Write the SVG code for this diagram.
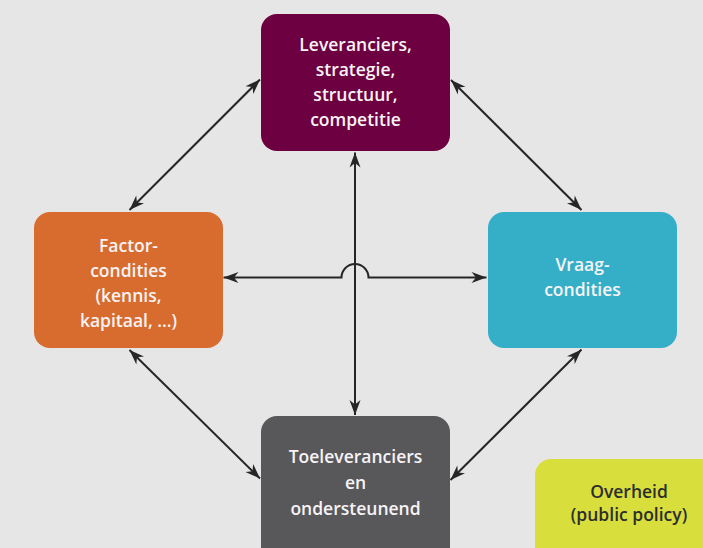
<svg xmlns="http://www.w3.org/2000/svg" width="703" height="548" viewBox="0 0 703 548">
  <style>
    .lbl { font-family: "Open Sans", "Liberation Sans", Arial, sans-serif; font-size: 17.5px; font-weight: 600; text-anchor: middle; fill: #f7f3f5; }
    .dark { fill: #2d2d2d; }
    .conn { stroke: #262626; stroke-width: 2; fill: none; }
  </style>
  <defs>
    <marker id="head" viewBox="-16 -7 18 14" refX="0" refY="0" markerWidth="18" markerHeight="14" markerUnits="userSpaceOnUse" orient="auto-start-reverse">
      <path d="M0,0 L-15,-5.5 L-10.5,0 L-15,5.5 Z" fill="#262626"/>
    </marker>
  </defs>
  <rect width="703" height="548" fill="#e6e6e6"/>

  <g id="connectors">
    <line class="conn" x1="129.5" y1="210" x2="260" y2="79.5" marker-start="url(#head)" marker-end="url(#head)"/>
    <line class="conn" x1="451" y1="80" x2="581.5" y2="210" marker-start="url(#head)" marker-end="url(#head)"/>
    <line class="conn" x1="129.5" y1="350" x2="260" y2="478.5" marker-start="url(#head)" marker-end="url(#head)"/>
    <line class="conn" x1="581.5" y1="349.5" x2="450.5" y2="480" marker-start="url(#head)" marker-end="url(#head)"/>
    <line class="conn" x1="355" y1="152.5" x2="355" y2="415" marker-start="url(#head)" marker-end="url(#head)"/>
    <path class="conn" d="M223.5,277.5 H341.5 A13.5,13.5 0 0 1 368.5,277.5 H486.5" marker-start="url(#head)" marker-end="url(#head)"/>
  </g>

  <g id="node-leveranciers">
    <rect x="261" y="14" width="189" height="137" rx="16" fill="#6c0041"/>
    <text class="lbl" x="355.5" y="51">Leveranciers,</text>
    <text class="lbl" x="355.5" y="76">strategie,</text>
    <text class="lbl" x="355.5" y="101">structuur,</text>
    <text class="lbl" x="355.5" y="126">competitie</text>
  </g>

  <g id="node-factor">
    <rect x="34" y="212" width="189" height="136" rx="16" fill="#d86c2e"/>
    <text class="lbl" x="128.5" y="252">Factor-</text>
    <text class="lbl" x="128.5" y="277">condities</text>
    <text class="lbl" x="128.5" y="302">(kennis,</text>
    <text class="lbl" x="128.5" y="327">kapitaal, …)</text>
  </g>

  <g id="node-vraag">
    <rect x="488" y="212" width="189" height="136" rx="16" fill="#35afc7"/>
    <text class="lbl" x="582.5" y="271">Vraag-</text>
    <text class="lbl" x="582.5" y="296">condities</text>
  </g>

  <g id="node-toeleveranciers">
    <rect x="261" y="416" width="189" height="150" rx="16" fill="#58585b"/>
    <text class="lbl" x="355.5" y="463">Toeleveranciers</text>
    <text class="lbl" x="355.5" y="489">en</text>
    <text class="lbl" x="355.5" y="515">ondersteunend</text>
  </g>

  <g id="node-overheid">
    <rect x="535" y="459" width="189" height="110" rx="16" fill="#d8df3c"/>
    <text class="lbl dark" x="629" y="498">Overheid</text>
    <text class="lbl dark" x="629" y="521">(public policy)</text>
  </g>
</svg>
